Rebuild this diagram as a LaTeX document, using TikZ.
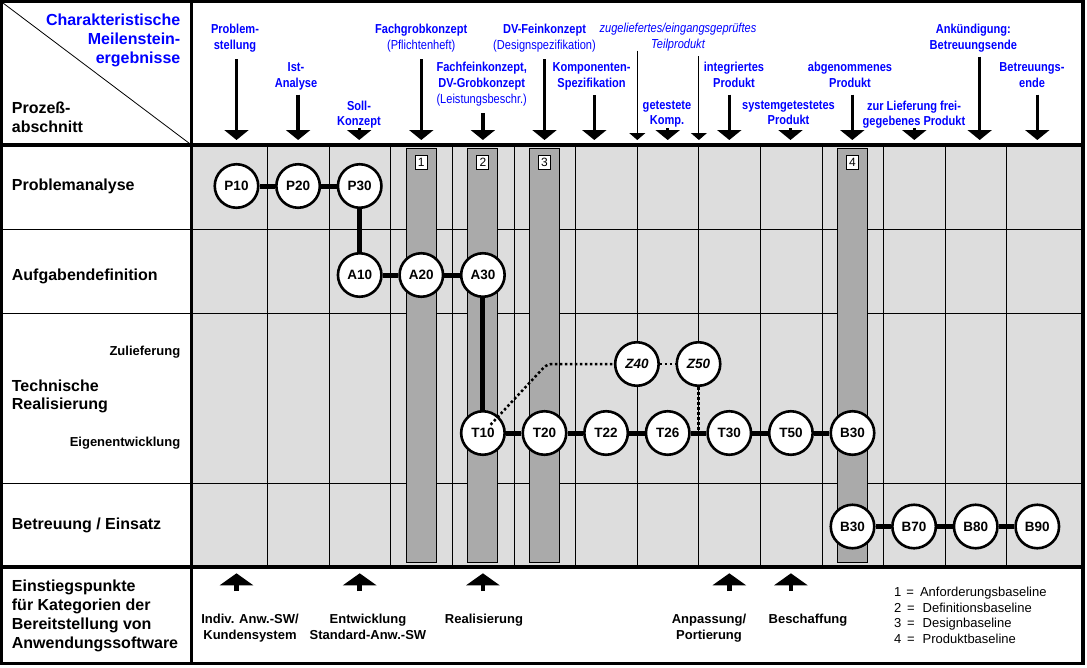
\documentclass[tikz,border=0pt]{standalone}
\usepackage{fontspec}
\setmainfont{Liberation Sans}
\newfontfamily\narrowFont[FakeStretch=0.85]{Liberation Sans}
\usetikzlibrary{arrows.meta,calc}
\pgfdeclarelayer{hintergrund}
\pgfsetlayers{hintergrund,main}
\definecolor{cellGray}{RGB}{221,221,221}
\definecolor{baselineGray}{RGB}{170,170,170}
\definecolor{milestoneBlue}{RGB}{0,0,255}
\tikzstyle{chart} = [x=1pt, y=-1pt]
\tikzstyle{frameLine} = [line width=3.5pt]
\tikzstyle{gridLine} = [color=black, line width=1pt]
\tikzstyle{barStyle} = [fill=baselineGray, draw=black, line width=1pt]
\tikzstyle{barLabel} = [draw, fill=white, line width=1pt, inner sep=0pt, minimum width=12pt, minimum height=14pt, font=\fontsize{12}{12}\selectfont]
\tikzstyle{phaseNode} = [circle, draw, fill=white, line width=2.6pt, minimum size=43.5pt, inner sep=0pt, font=\bfseries\fontsize{13.5}{14}\selectfont]
\tikzstyle{phaseLine} = [line width=5pt]
\tikzstyle{supplyLine} = [line width=2.5pt, dash pattern=on 2.5pt off 2.5pt, rounded corners=5pt]
\tikzstyle{milestoneText} = [text=milestoneBlue, align=center, inner sep=0pt, anchor=north, font=\narrowFont\bfseries\fontsize{13}{15.7}\selectfont]
\tikzstyle{milestoneArrow} = [line width=3.3pt, -{Triangle[width=24pt,length=10pt]}]
\tikzstyle{supplyArrow} = [line width=1pt, -{Triangle[width=16pt,length=7pt]}]
\tikzstyle{entryArrow} = [line width=4.5pt, -{Triangle[width=33pt,length=12pt]}]
\tikzstyle{rowText} = [inner sep=0pt, font=\bfseries\fontsize{16}{18.7}\selectfont]
\tikzstyle{subRowText} = [anchor=base east, inner sep=0pt, font=\bfseries\fontsize{13}{15}\selectfont]
\tikzstyle{entryText} = [align=center, inner sep=0pt, anchor=north, font=\bfseries\fontsize{13}{15.5}\selectfont]
\tikzstyle{legendText} = [anchor=base west, inner sep=0pt, font=\fontsize{13}{15}\selectfont]
\newcommand{\baselineBar}[2]{
  \filldraw [barStyle] ({236.5 + 61.6*#1 - 15}, 148.5) rectangle ({236.5 + 61.6*#1 + 15}, 562.5);
}
\newcommand{\baselineLabel}[2]{\node [barLabel] (bl#2) at ({236.5 + 61.6*#1}, 162.5) {#2};}
\newcommand{\milestone}[6]{
  \node [milestoneText] (#1) at (#2, #3 - 9.5) {#4};
  \coordinate (#1Start) at (#5, #6);
  \coordinate (#1Tip) at (#5, 140);
  \draw [milestoneArrow] (#1Start) -- (#1Tip);
}
\newcommand{\entryPoint}[2]{
  \coordinate (#1Base) at ({236.5 + 61.6*#2}, 591);
  \coordinate (#1Tip) at ({236.5 + 61.6*#2}, 573.3);
  \draw [entryArrow] (#1Base) -- (#1Tip);
}

\begin{document}
\begin{tikzpicture}[chart]
  \useasboundingbox (0,0) rectangle (1087,667);

  \begin{pgfonlayer}{hintergrund}
    \fill [white] (0,0) rectangle (1087,667);
    \fill [cellGray] (193.3,146.7) rectangle (1081.5,565);
    \foreach \k in {0,...,12} {
      \draw [gridLine] ({267.7 + 61.6*\k}, 146.7) -- +(0, 418.3);
    }
    \foreach \y in {229.3, 313.3, 483.3} {
      \draw [gridLine] (1.7, \y) -- (1083, \y);
    }
    \baselineBar{3}{1}
    \baselineBar{4}{2}
    \baselineBar{5}{3}
    \baselineBar{10}{4}
    \draw [frameLine] (1.7,1.7) rectangle (1083.2,663.3);
    \draw [frameLine] (191.5,1.7) -- (191.5,663.3);
    \draw [frameLine] (1.7,145) -- (1083.2,145);
    \draw [frameLine, line width=4pt] (1.7,567) -- (1083.2,567);
    \draw [line width=0.8pt] (3,3) -- (191.5,145);
  \end{pgfonlayer}

  \baselineLabel{3}{1}
  \baselineLabel{4}{2}
  \baselineLabel{5}{3}
  \baselineLabel{10}{4}

  \node [rowText, text=milestoneBlue, align=right, anchor=north east] (kopf) at (180.5, 14.1) {Charakteristische\\Meilenstein-\\ergebnisse};
  \node [rowText, align=left, anchor=north west] (prozess) at (11.7, 101.7) {Prozeß-\\abschnitt};
  \node [rowText, anchor=base west] (problemanalyse) at (11.7, 190.7) {Problemanalyse};
  \node [rowText, anchor=base west] (aufgabendefinition) at (11.7, 280) {Aufgabendefinition};
  \node [subRowText] (zulieferung) at (180.5, 355) {Zulieferung};
  \node [rowText, align=left, anchor=north west] (technisch) at (11.7, 379.4) {Technische\\Realisierung};
  \node [subRowText] (eigenentwicklung) at (180.5, 446) {Eigenentwicklung};
  \node [rowText, anchor=base west] (betreuung) at (11.7, 529.3) {Betreuung / Einsatz};
  \node [rowText, align=left, anchor=north west] (einstieg) at (11.7, 580.1) {Einstiegspunkte\\für Kategorien der\\Bereitstellung von\\Anwendungssoftware};

  \milestone{problemstellung}{235}{33.3}{Problem-\\stellung}{236.5}{59}
  \milestone{istAnalyse}{296}{72}{Ist-\\Analyse}{298.1}{94.5}
  \milestone{sollKonzept}{359}{110}{Soll-\\Konzept}{359.2}{128}
  \milestone{fachgrob}{421.2}{33.3}{Fachgrobkonzept\\{\mdseries(Pflichtenheft)}}{421.3}{59}
  \milestone{fachfein}{481.7}{71.7}{Fachfeinkonzept,\\DV-Grobkonzept\\{\mdseries(Leistungsbeschr.)}}{482.9}{113}
  \milestone{dvFein}{544.5}{33.3}{DV-Feinkonzept\\{\mdseries(Designspezifikation)}}{544.5}{59}
  \milestone{komponenten}{591.5}{71.7}{Komponenten-\\Spezifikation}{594.3}{95}
  \milestone{getestet}{667}{110}{getestete\\Komp.}{667.7}{128}
  \milestone{integriert}{734}{71.7}{integriertes\\Produkt}{729.3}{94.5}
  \milestone{systemGetestet}{788.5}{110}{systemgetestetes\\Produkt}{790.5}{128}
  \milestone{abgenommen}{850}{71.7}{abgenommenes\\Produkt}{852.3}{94.5}
  \milestone{freigegeben}{914}{110}{zur Lieferung frei-\\gegebenes Produkt}{914.3}{128}
  \milestone{ankuendigung}{973.3}{33.3}{Ankündigung:\\Betreuungsende}{979.7}{56.7}
  \milestone{betreuungsende}{1032}{71.7}{Betreuungs-\\ende}{1037.3}{94.5}

  \node [milestoneText, font=\narrowFont\itshape\fontsize{13}{15.7}\selectfont] (zugeliefert) at (678, 22.8) {zugeliefertes/eingangsgeprüftes\\Teilprodukt};
  \coordinate (zuStartA) at (637.3, 50.7);
  \coordinate (zuTipA) at (637.3, 140);
  \coordinate (zuStartB) at (698.9, 56);
  \coordinate (zuTipB) at (698.9, 140);
  \draw [supplyArrow] (zuStartA) -- (zuTipA);
  \draw [supplyArrow] (zuStartB) -- (zuTipB);

  \foreach \knoten/\k/\y in {P10/0/186, P20/1/186, P30/2/186, A10/2/275, A20/3/275, A30/4/275, T10/4/433, T20/5/433, T22/6/433, T26/7/433, T30/8/433, T50/9/433, B70/11/526.5, B80/12/526.5, B90/13/526.5} {
    \node [phaseNode] (\knoten) at ({236.5 + 61.6*\k}, \y) {\knoten};
  }
  \node [phaseNode] (B30t) at ({236.5 + 61.6*10}, 433) {B30};
  \node [phaseNode] (B30b) at ({236.5 + 61.6*10}, 526.5) {B30};
  \node [phaseNode, font=\bfseries\itshape\fontsize{13.5}{14}\selectfont] (Z40) at ({236.5 + 61.6*6.5}, 364) {Z40};
  \node [phaseNode, font=\bfseries\itshape\fontsize{13.5}{14}\selectfont] (Z50) at ({236.5 + 61.6*7.5}, 364) {Z50};

  \begin{pgfonlayer}{hintergrund}
    \draw [supplyLine] (Z50) -- (Z50 |- T26);
    \foreach \von/\nach in {P10/P20, P20/P30, P30/A10, A10/A20, A20/A30, A30/T10, T10/T20, T20/T22, T22/T26, T26/T30, T30/T50, T50/B30t, B30b/B70, B70/B80, B80/B90} {
      \draw [phaseLine] (\von) -- (\nach);
    }
  \end{pgfonlayer}

  \coordinate (knick) at (547, 364);
  \draw [supplyLine] ($(T10.center)!0.12!(knick)$) -- (knick) -- (Z40.west);
  \draw [supplyLine] (Z40) -- (Z50);

  \entryPoint{indiv}{0}
  \entryPoint{entwicklung}{2}
  \entryPoint{realisierung}{4}
  \entryPoint{anpassung}{8}
  \entryPoint{beschaffung}{9}
  \node [entryText] (indivText) at (250, 614.1) {Indiv. Anw.-SW/\\Kundensystem};
  \node [entryText] (entwicklungText) at (368, 614.1) {Entwicklung\\Standard-Anw.-SW};
  \node [entryText] (realisierungText) at (484, 614.1) {Realisierung};
  \node [entryText] (anpassungText) at (709, 614.1) {Anpassung/\\Portierung};
  \node [entryText] (beschaffungText) at (808, 614.1) {Beschaffung};

  \node [legendText] (legEins) at (894, 596.5) {1\hspace{5pt}=\hspace{6pt}Anforderungsbaseline};
  \node [legendText] (legZwei) at (894, 612) {2\hspace{5.7pt}=\hspace{8pt}Definitionsbaseline};
  \node [legendText] (legDrei) at (894, 627.5) {3\hspace{5.7pt}=\hspace{8pt}Designbaseline};
  \node [legendText] (legVier) at (894, 643) {4\hspace{5.7pt}=\hspace{8pt}Produktbaseline};
\end{tikzpicture}
\end{document}
